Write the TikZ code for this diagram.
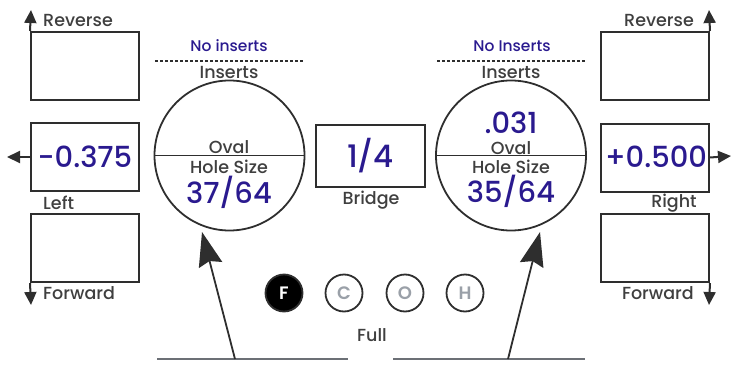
\documentclass[tikz,border=0pt]{standalone}
\usepackage{fontspec}
\IfFontExistsTF{Poppins Medium}{\setmainfont{Poppins Medium}[BoldFont={Poppins SemiBold}]}{\setmainfont{Poppins}}
\usetikzlibrary{arrows.meta}
\definecolor{ink}{HTML}{2E2E2E}
\definecolor{lab}{HTML}{3F3F3F}
\definecolor{blu}{HTML}{2A1A8F}
\definecolor{gry}{HTML}{9AA0A8}
\begin{document}
\begin{tikzpicture}[x=1pt,y=-1pt,
  box/.style={draw=ink,line width=2pt,minimum width=108pt,minimum height=68pt,inner sep=0pt},
  lbl/.style={text=lab,font=\fontsize{17.5}{17.5}\selectfont,inner sep=0pt},
  blbl/.style={text=blu,font=\fontsize{15.5}{15.5}\selectfont,inner sep=0pt},
  big/.style={text=blu,font=\fontsize{29}{29}\selectfont,inner sep=0pt},
  ring/.style={circle,draw=ink,line width=1.8pt,minimum size=150pt,inner sep=0pt},
  pill/.style={circle,draw=ink,line width=1.8pt,minimum size=37pt,inner sep=0pt,font=\fontsize{18}{18}\selectfont\bfseries},
  edgearrow/.style={draw=ink,line width=2pt,-{Triangle[length=13pt,width=12pt]}},
  bigarrow/.style={draw=ink,line width=1.8pt,-{Stealth[length=34pt,width=24pt,inset=4pt]}},
  base/.style={draw=gry!70!black,line width=1.3pt}]
\useasboundingbox (0,0) rectangle (731,372);
% left boxes
\node[box] (tl) at (85,66) {};
\node[box] (ml) at (85,157) {};
\node[box] (bl) at (85,248) {};
\node[big] (mlv) at (85,157) {-0.375};
\coordinate (tlup) at (31,10);
\coordinate (mlleft) at (7,157);
\coordinate (bldn) at (31,305);
\draw[edgearrow] (tl.north west) -- (tlup);
\draw[edgearrow] (ml.west) -- (mlleft);
\draw[edgearrow] (bl.south west) -- (bldn);
\node[lbl,anchor=west] (rev1) at (43,20) {Reverse};
\node[lbl,anchor=west] (left) at (43,203) {Left};
\node[lbl,anchor=west] (fwd1) at (43,293) {Forward};
% right boxes
\node[box] (tr) at (655,66) {};
\node[box] (mr) at (655,157.5) {};
\node[box] (br) at (655,248) {};
\node[big] (mrv) at (656,157) {+0.500};
\coordinate (trup) at (709,10);
\coordinate (mrright) at (731,156);
\coordinate (brdn) at (709,305);
\draw[edgearrow] (tr.north east) -- (trup);
\draw[edgearrow] (mr.east) -- (mrright);
\draw[edgearrow] (br.south east) -- (brdn);
\node[lbl,anchor=east] (rev2) at (694,20) {Reverse};
\node[lbl] (right) at (674,203) {Right};
\node[lbl,anchor=east] (fwd2) at (694,293) {Forward};
% left circle
\node[ring] (lc) at (229.5,155.5) {};
\draw[draw=ink,line width=1.8pt] (lc.west) -- (lc.east);
\node[blbl] (ni1) at (229,46) {No inserts};
\coordinate (d1a) at (155,61);
\coordinate (d1b) at (303,61);
\draw[draw=ink,line width=1.8pt,dash pattern=on 2.5pt off 2.5pt] (d1a) -- (d1b);
\node[lbl] (ins1) at (229,72) {Inserts};
\node[lbl] (ov1) at (229,147) {Oval};
\node[lbl] (hs1) at (229,167) {Hole Size};
\node[big] (hv1) at (229,192) {37/64};
% bridge
\node[box,minimum width=109pt,minimum height=62pt] (br0) at (370.5,156) {};
\node[big,font=\fontsize{31}{31}\selectfont] (bv) at (370.5,156) {1/4};
\node[lbl] (bridge) at (371,200) {Bridge};
% right circle
\node[ring] (rc) at (511,155.5) {};
\draw[draw=ink,line width=1.8pt] (rc.west) -- (rc.east);
\node[blbl] (ni2) at (512,46) {No Inserts};
\coordinate (d2a) at (437,61);
\coordinate (d2b) at (586,61);
\draw[draw=ink,line width=1.8pt,dash pattern=on 2.5pt off 2.5pt] (d2a) -- (d2b);
\node[lbl] (ins2) at (511,72) {Inserts};
\node[big] (ins2v) at (511,123) {.031};
\node[lbl] (ov2) at (511,148) {Oval};
\node[lbl] (hs2) at (511,167) {Hole Size};
\node[big] (hv2) at (511,191) {35/64};
% pills
\node[pill,fill=black,text=white] (pf) at (284,293) {F};
\node[pill,text=gry] (pc) at (344,293) {C};
\node[pill,text=gry] (po) at (405,293) {O};
\node[pill,text=gry] (ph) at (465,293) {H};
\node[lbl] (full) at (372,335) {Full};
% base lines and arrows
\coordinate (b1a) at (157,359);
\coordinate (b1b) at (348,359);
\coordinate (b2a) at (393,359);
\coordinate (b2b) at (585,359);
\draw[base] (b1a) -- (b1b);
\draw[base] (b2a) -- (b2b);
\coordinate (a1s) at (235,359);
\coordinate (a1e) at (202,232);
\coordinate (a2s) at (508,359);
\coordinate (a2e) at (540,232);
\draw[bigarrow] (a1s) -- (a1e);
\draw[bigarrow] (a2s) -- (a2e);
\end{tikzpicture}
\end{document}
